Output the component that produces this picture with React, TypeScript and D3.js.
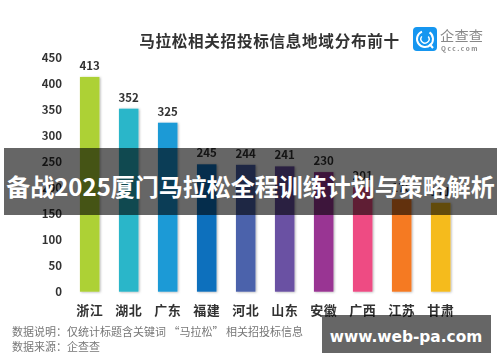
import React from "react";
import * as d3 from "d3";

const categories = ["浙江", "湖北", "广东", "福建", "河北", "山东", "安徽", "广西", "江苏", "甘肃"];
const values = [413, 352, 325, 245, 244, 241, 230, 201, 178, 171];
const colors = ["#add136", "#29b6c9", "#1a9ad6", "#0b6fbd", "#4c62ab", "#6a51a3", "#993593", "#ee4b83", "#f57a23", "#f5bb1c"];
const ticks = [0, 50, 100, 150, 200, 250, 300, 350, 400, 450];
const title = "马拉松相关招投标信息地域分布前十";
const note1 = "数据说明：仅统计标题含关键词 “马拉松” 相关招投标信息";
const note2 = "数据来源：企查查";
const bannerText = "备战2025厦门马拉松全程训练计划与策略解析";
const watermark = "www.web-pa.com";

const font = "'Noto Sans CJK SC', 'Noto Sans', sans-serif";

export default function App() {
  const y = d3.scaleLinear().domain([0, 450]).range([291.7, 57.7]);
  const x = d3.scaleBand<string>().domain(categories).range([70.2, 460.2]).paddingInner(0.5).paddingOuter(0.25);
  const ring = d3.arc()({ innerRadius: 7, outerRadius: 9, startAngle: 0.6, endAngle: 5.9 }) as string;
  const ring2 = d3.arc()({ innerRadius: 3.4, outerRadius: 4.8, startAngle: 0.9, endAngle: 5.4 }) as string;
  return (
    <svg width={500} height={362} style={{ position: "absolute", left: 0, top: 0, background: "#fff" }} fontFamily={font}>
      <defs>
        <filter id="s" x="-30%" y="-10%" width="160%" height="120%">
          <feDropShadow dx="1" dy="0.5" stdDeviation="1.2" floodColor="#000" floodOpacity="0.3" />
        </filter>
        <filter id="b"><feGaussianBlur stdDeviation="0.35" /></filter>
      </defs>
      <g filter="url(#b)">
        <text x={269.5} y={47} textAnchor="middle" fontSize={15.6} fontWeight={700} fill="#333" letterSpacing={0.7}>{title}</text>
        {ticks.map((t) => (
          <text key={t} x={62} y={y(t) + 4} textAnchor="end" fontSize={11.5} fontWeight={700} fill="#333">{t}</text>
        ))}
        {categories.map((c, i) => {
          const bx = x(c)!;
          const bw = x.bandwidth();
          return (
            <g key={c}>
              <rect x={bx} y={y(values[i])} width={bw} height={y(0) - y(values[i])} fill={colors[i]} filter="url(#s)" />
              <text x={bx + bw / 2} y={y(values[i]) - 7} textAnchor="middle" fontSize={11.5} fontWeight={700} fill="#333">{values[i]}</text>
              <text x={bx + bw / 2} y={315} textAnchor="middle" fontSize={13} fontWeight={700} fill="#333" letterSpacing={0.4}>{c}</text>
            </g>
          );
        })}
        <text x={12} y={336} fontSize={11} fill="#777">{note1}</text>
        <text x={12} y={351} fontSize={11} fill="#777">{note2}</text>
        <rect x={413} y={27} width={24} height={24} rx={4} fill="#1296f0" />
        <g transform="translate(425 39)">
          <path d={ring} fill="#fff" />
          <path d={ring2} fill="#fff" />
          <line x1={4.5} y1={5} x2={8} y2={9} stroke="#fff" strokeWidth={2} />
        </g>
        <text x={440} y={41} fontSize={14.2} fill="#888" letterSpacing={0.2}>企查查</text>
        <text x={441} y={50.5} fontSize={6.4} fontWeight={700} fill="#888" letterSpacing={1.6}>Qcc.com</text>
      </g>
      <rect x={4} y={148} width={493} height={67} fill="#000" fillOpacity={0.6} />
      <text x={250.5} y={196} textAnchor="middle" fontSize={24} fontWeight={700} fill="#fff">{bannerText}</text>
      <rect x={322} y={315} width={169} height={38} fill="#000" fillOpacity={0.6} />
      <text x={406} y={342} textAnchor="middle" fontSize={15.4} fontWeight={700} fill="#fff" fontFamily="'DejaVu Sans', sans-serif">{watermark}</text>
    </svg>
  );
}
